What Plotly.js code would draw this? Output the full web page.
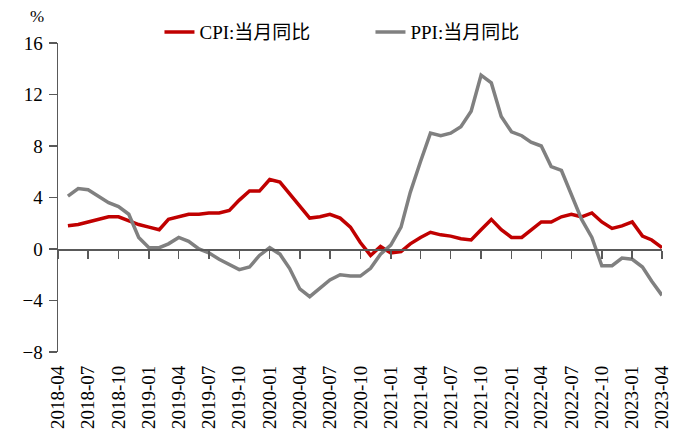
<!DOCTYPE html>
<html>
<head>
<meta charset="utf-8">
<script src="https://cdn.plot.ly/plotly-3.0.1.min.js"></script>
<style>html,body{margin:0;padding:0;background:#fff;}#chart{width:673px;height:443px;}</style>
</head>
<body>
<div id="chart"></div>
<script>
const months = [
  '2018-05-01','2018-06-01','2018-07-01','2018-08-01','2018-09-01','2018-10-01','2018-11-01','2018-12-01',
  '2019-01-01','2019-02-01','2019-03-01','2019-04-01','2019-05-01','2019-06-01','2019-07-01','2019-08-01','2019-09-01','2019-10-01','2019-11-01','2019-12-01',
  '2020-01-01','2020-02-01','2020-03-01','2020-04-01','2020-05-01','2020-06-01','2020-07-01','2020-08-01','2020-09-01','2020-10-01','2020-11-01','2020-12-01',
  '2021-01-01','2021-02-01','2021-03-01','2021-04-01','2021-05-01','2021-06-01','2021-07-01','2021-08-01','2021-09-01','2021-10-01','2021-11-01','2021-12-01',
  '2022-01-01','2022-02-01','2022-03-01','2022-04-01','2022-05-01','2022-06-01','2022-07-01','2022-08-01','2022-09-01','2022-10-01','2022-11-01','2022-12-01',
  '2023-01-01','2023-02-01','2023-03-01','2023-04-01'
];
const cpi = [
  1.8,1.9,2.1,2.3,2.5,2.5,2.2,1.9,
  1.7,1.5,2.3,2.5,2.7,2.7,2.8,2.8,3.0,3.8,4.5,4.5,
  5.4,5.2,4.3,3.3,2.4,2.5,2.7,2.4,1.7,0.5,-0.5,0.2,
  -0.3,-0.2,0.4,0.9,1.3,1.1,1.0,0.8,0.7,1.5,2.3,1.5,
  0.9,0.9,1.5,2.1,2.1,2.5,2.7,2.5,2.8,2.1,1.6,1.8,
  2.1,1.0,0.7,0.1
];
const ppi = [
  4.1,4.7,4.6,4.1,3.6,3.3,2.7,0.9,
  0.1,0.1,0.4,0.9,0.6,0.0,-0.3,-0.8,-1.2,-1.6,-1.4,-0.5,
  0.1,-0.4,-1.5,-3.1,-3.7,-3.0,-2.4,-2.0,-2.1,-2.1,-1.5,-0.4,
  0.3,1.7,4.4,6.8,9.0,8.8,9.0,9.5,10.7,13.5,12.9,10.3,
  9.1,8.8,8.3,8.0,6.4,6.1,4.2,2.3,0.9,-1.3,-1.3,-0.7,
  -0.8,-1.4,-2.5,-3.6
];
const seriesNames = ['CPI:当月同比','PPI:当月同比'];
const yTicks = [-8,-4,0,4,8,12,16];
const xRange = ['2018-04-01','2023-04-01'];

const FONT = 'Liberation Serif, Times New Roman, Noto Sans CJK SC, serif';
const yMin = -8, yMax = 16;
const zeroPos = (0 - yMin) / (yMax - yMin);

const traces = [
  {x: months, y: cpi, name: seriesNames[0], type: 'scatter', mode: 'lines',
   line: {color: '#C00000', width: 3.5}, xaxis: 'x', yaxis: 'y'},
  {x: months, y: ppi, name: seriesNames[1], type: 'scatter', mode: 'lines',
   line: {color: '#808080', width: 3.5}, xaxis: 'x', yaxis: 'y'},
  {x: months, y: ppi, type: 'scatter', mode: 'lines', showlegend: false, hoverinfo: 'skip',
   line: {color: 'rgba(0,0,0,0)', width: 0}, xaxis: 'x2', yaxis: 'y'}
];

const layout = {
  width: 673, height: 443,
  margin: {l: 58, r: 11, t: 43, b: 91, pad: 0},
  paper_bgcolor: '#fff', plot_bgcolor: '#fff',
  font: {family: FONT, size: 18, color: '#000'},
  showlegend: true,
  legend: {orientation: 'h', x: 0.168, xanchor: 'left', y: 1.035, yanchor: 'middle',
           font: {family: FONT, size: 19, color: '#000'}, entrywidth: 166, bgcolor: 'rgba(0,0,0,0)'},
  xaxis: {type: 'date', range: xRange, tick0: '2018-04-01', dtick: 'M3', tickformat: '%Y-%m',
          tickangle: -90, showgrid: false, zeroline: false, showline: false, ticks: '',
          tickfont: {family: FONT, size: 19, color: '#000'}, ticklabelstandoff: 9},
  xaxis2: {type: 'date', range: xRange, tick0: '2018-04-01', dtick: 'M3', overlaying: 'x',
           anchor: 'free', position: zeroPos, showgrid: false, zeroline: false, showline: true,
           linecolor: '#595959', linewidth: 1.5, ticks: 'outside', ticklen: 8, tickwidth: 1.5,
           tickcolor: '#595959', showticklabels: false},
  yaxis: {range: [yMin, yMax], tickvals: yTicks, showgrid: false, zeroline: false,
          showline: true, linecolor: '#595959', linewidth: 1.5, ticks: 'outside', ticklen: 8,
          tickwidth: 1.5, tickcolor: '#595959', tickfont: {family: FONT, size: 19, color: '#000'},
          ticklabelstandoff: 2},
  annotations: [{text: '%', xref: 'paper', yref: 'paper', x: -0.035, y: 1.085,
                 xanchor: 'center', yanchor: 'middle', showarrow: false,
                 font: {family: FONT, size: 17, color: '#000'}}]
};

Plotly.newPlot('chart', traces, layout, {displayModeBar: false, staticPlot: true});
</script>
</body>
</html>
